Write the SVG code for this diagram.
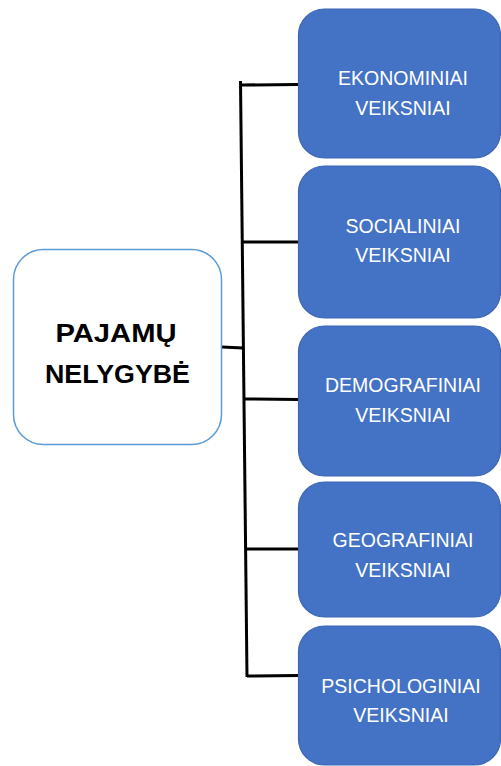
<svg xmlns="http://www.w3.org/2000/svg" width="501" height="766" viewBox="0 0 501 766">
<style>
.blue rect{fill:#4472C4;stroke:#3C66B5;stroke-width:1.2}
.blue text{fill:#FFFFFF;font-family:"Liberation Sans",Arial,sans-serif;font-size:19.5px;text-anchor:middle}
.main text{fill:#000000;font-family:"Liberation Sans",Arial,sans-serif;font-size:26px;font-weight:bold;text-anchor:middle}
.conn line{stroke:#000000;stroke-width:3;stroke-linecap:butt}
</style>
<rect width="501" height="766" fill="#FFFFFF"/>
<g id="connectors" class="conn">
<line x1="240.5" y1="81" x2="247" y2="677"/>
<line x1="222" y1="347" x2="243" y2="348"/>
<line x1="242" y1="85" x2="298" y2="84.5"/>
<line x1="243" y1="242" x2="298" y2="242"/>
<line x1="244" y1="399" x2="298" y2="399.5"/>
<line x1="245" y1="549" x2="298" y2="549"/>
<line x1="247" y1="676" x2="298" y2="675.5"/>
</g>
<g id="pajamu" class="main">
<rect x="13.5" y="249.5" width="208" height="195" rx="30" ry="30" fill="#FFFFFF" stroke="#5B9BD5" stroke-width="1.5"/>
<text x="116" y="342" textLength="121" lengthAdjust="spacingAndGlyphs">PAJAMŲ</text>
<text x="117.5" y="383" textLength="145" lengthAdjust="spacingAndGlyphs">NELYGYBĖ</text>
</g>
<g id="ekonominiai" class="blue">
<rect x="298.5" y="9" width="202" height="149" rx="26" ry="26"/>
<text x="403" y="85">EKONOMINIAI</text>
<text x="403" y="115">VEIKSNIAI</text>
</g>
<g id="socialiniai" class="blue">
<rect x="298.5" y="166" width="202" height="152" rx="26" ry="26"/>
<text x="403" y="233">SOCIALINIAI</text>
<text x="403" y="262">VEIKSNIAI</text>
</g>
<g id="demografiniai" class="blue">
<rect x="298.5" y="326" width="202" height="150" rx="26" ry="26"/>
<text x="403" y="392">DEMOGRAFINIAI</text>
<text x="403" y="422">VEIKSNIAI</text>
</g>
<g id="geografiniai" class="blue">
<rect x="298.5" y="482" width="202" height="135" rx="26" ry="26"/>
<text x="403" y="547">GEOGRAFINIAI</text>
<text x="403" y="577">VEIKSNIAI</text>
</g>
<g id="psichologiniai" class="blue">
<rect x="298.5" y="626" width="202" height="139" rx="26" ry="26"/>
<text x="401" y="693">PSICHOLOGINIAI</text>
<text x="401" y="722">VEIKSNIAI</text>
</g>
</svg>
